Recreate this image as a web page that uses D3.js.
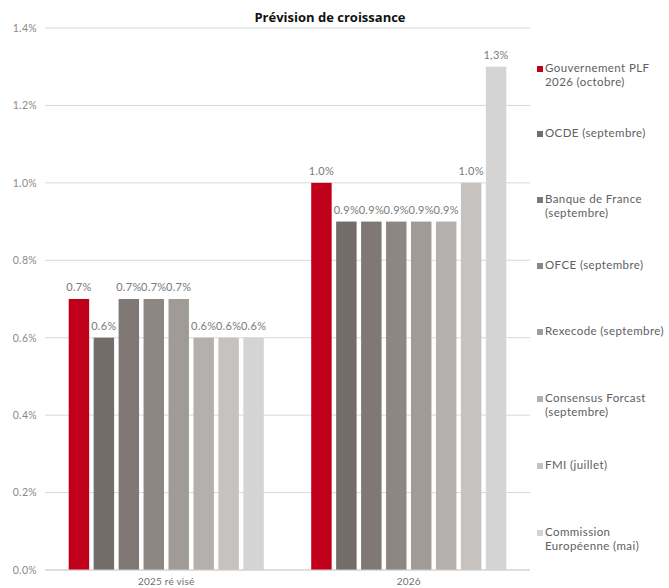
<!DOCTYPE html>
<html>
<head>
<meta charset="utf-8">
<script src="https://cdn.jsdelivr.net/npm/d3@7"></script>
<style>
  body { margin: 0; background: #fff; }
  svg { display: block; font-family: "Lato", "DejaVu Sans", sans-serif; }
</style>
</head>
<body>
<svg id="chart" width="669" height="588"></svg>
<script>
// data
var categories = ['2025 ré visé', '2026'];
var seriesNames = [
  'Gouvernement PLF 2026 (octobre)',
  'OCDE (septembre)',
  'Banque de France (septembre)',
  'OFCE (septembre)',
  'Rexecode (septembre)',
  'Consensus Forcast (septembre)',
  'FMI (juillet)',
  'Commission Européenne (mai)'
];
var legendLines = [
  ['Gouvernement PLF', '2026 (octobre)'],
  ['OCDE (septembre)'],
  ['Banque de France', '(septembre)'],
  ['OFCE (septembre)'],
  ['Rexecode (septembre)'],
  ['Consensus Forcast', '(septembre)'],
  ['FMI (juillet)'],
  ['Commission', 'Européenne (mai)']
];
var values2025 = [0.7, 0.6, 0.7, 0.7, 0.7, 0.6, 0.6, 0.6];
var values2026 = [1.0, 0.9, 0.9, 0.9, 0.9, 0.9, 1.0, 1.3];
var yTicks = [0, 0.2, 0.4, 0.6, 0.8, 1.0, 1.2, 1.4];
var COLS = ['#c0001a', '#736c69', '#7f7874', '#8d8682', '#a19b97', '#b3b0ae', '#c5c2c0', '#d5d4d3'];

(function() {
    'use strict';
    var svg = d3.select('#chart'),
    left = 45, right = 530, top = 28, bottom = 570,
    rows = categories.map(function(c, i) {
        return [values2025, values2026][i].map(function(v, j) {
            return {cat: c, s: j, v: v};
        });
    }),
    x0 = d3.scaleBand().domain(categories).range([left, right]),
    x1 = d3.scaleBand().domain(d3.range(seriesNames.length))
        .range([0, x0.bandwidth()]).paddingInner(0.18).paddingOuter(0.95),
    y = d3.scaleLinear().domain([0, 1.4]).range([bottom, top]);

    // grid
    svg.append('g').selectAll('line').data(yTicks).enter().append('line')
        .attr('x1', left).attr('x2', right)
        .attr('y1', function(d) { return y(d); })
        .attr('y2', function(d) { return y(d); })
        .attr('stroke', '#d9d9d9').attr('stroke-width', 1);

    var yAxis = svg.append('g').attr('transform', 'translate(' + left + ',0)')
        .call(d3.axisLeft(y).tickValues(yTicks).tickSize(0).tickPadding(8)
            .tickFormat(function(d) { return d.toFixed(1) + '%'; }));
    yAxis.select('.domain').remove();
    yAxis.selectAll('text').attr('fill', '#8a8a8a').attr('font-size', 10.5)
        .attr('font-family', 'Lato, sans-serif').attr('letter-spacing', 0.3);

    var groups = svg.selectAll('.grp').data(rows).enter().append('g')
        .attr('class', 'grp')
        .attr('transform', function(d) { return 'translate(' + x0(d[0].cat) + ',0)'; });

    groups.selectAll('rect').data(function(d) { return d; }).enter().append('rect')
        .attr('x', function(d) { return x1(d.s); })
        .attr('width', x1.bandwidth())
        .attr('y', function(d) { return y(d.v); })
        .attr('height', function(d) { return y(0) - y(d.v); })
        .attr('fill', function(d) { return COLS[d.s]; });

    groups.selectAll('text').data(function(d) { return d; }).enter().append('text')
        .attr('x', function(d) { return x1(d.s) + x1.bandwidth() / 2; })
        .attr('y', function(d) { return y(d.v) - 8; })
        .attr('text-anchor', 'middle')
        .attr('font-size', 11).attr('letter-spacing', 0.3).attr('fill', '#7a7a7a')
        .text(function(d) {
            return d.v === 1.3 ? '1,3%' : d.v.toFixed(1) + '%';
        });

    // baseline and category labels
    svg.append('line').attr('x1', left).attr('x2', right)
        .attr('y1', bottom).attr('y2', bottom).attr('stroke', '#d0d0d0');
    var xAxis = svg.append('g').attr('transform', 'translate(0,' + bottom + ')')
        .call(d3.axisBottom(x0).tickSize(0).tickPadding(8));
    xAxis.select('.domain').remove();
    xAxis.selectAll('text').attr('fill', '#6e6e6e').attr('font-size', 10)
        .attr('font-family', 'Lato, sans-serif').attr('letter-spacing', 0.2);

    // title
    svg.append('text').attr('x', 330).attr('y', 22).attr('text-anchor', 'middle')
        .attr('font-size', 13).attr('font-weight', 'bold').attr('fill', '#111')
        .attr('font-family', '"Open Sans", sans-serif')
        .text('Prévision de croissance');

    // legend
    var legY = [72, 137, 203, 269, 335, 402, 469, 536];
    var leg = svg.selectAll('.leg').data(seriesNames).enter().append('g')
        .attr('class', 'leg')
        .attr('transform', function(d, i) { return 'translate(537,' + legY[i] + ')'; });
    leg.append('rect').attr('x', 0).attr('y', -6).attr('width', 6).attr('height', 6)
        .attr('fill', function(d, i) { return COLS[i]; });
    leg.append('text').attr('x', 8).attr('font-size', 11.5).attr('letter-spacing', 0.4)
        .attr('fill', '#606060')
        .each(function(d, i) {
            var t = d3.select(this);
            legendLines[i].forEach(function(l, k) {
                t.append('tspan').attr('x', 8).attr('dy', k === 0 ? 0 : 14).text(l);
            });
        });
}());
</script>
</body>
</html>
